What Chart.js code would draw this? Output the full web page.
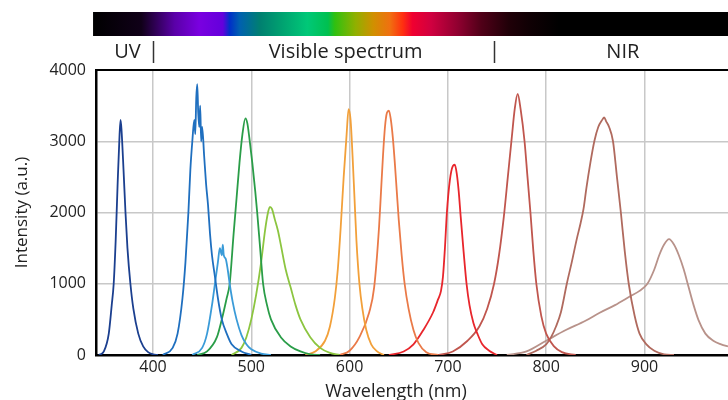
<!DOCTYPE html>
<html>
<head>
<meta charset="utf-8">
<script src="https://cdn.jsdelivr.net/npm/chart.js@4.4.1/dist/chart.umd.min.js"></script>
<style>
  html, body { margin: 0; padding: 0; background: #fff; overflow: hidden; }
  #wrap { width: 728px; height: 400px; }
</style>
</head>
<body>
<div id="wrap"><canvas id="myChart-spectra" width="728" height="400"></canvas></div>
<script>
// emission spectra: [wavelength nm, intensity a.u.]
const led365 = [[345,0],[350,50],[355,300],[358,700],[360,1000],[362,1600],[364,2400],[366,3100],[367,3300],[368,3150],[370,2600],[372,2000],[374,1500],[377,1000],[380,650],[385,300],[390,120],[395,40],[400,10],[405,0]];
const led445 = [[410,0],[420,100],[425,300],[430,800],[433,1300],[436,2000],[438,2600],[440,3000],[442,3300],[443,3100],[444,3600],[445,3800],[446,3400],[447,3200],[448,3500],[449,3000],[450,3200],[452,2800],[454,2400],[456,2100],[458,1700],[460,1400],[463,1100],[466,800],[470,500],[475,300],[480,150],[490,50],[500,0]];
const led470 = [[440,0],[450,100],[455,300],[460,700],[463,1000],[466,1300],[468,1500],[470,1400],[471,1550],[472,1400],[474,1350],[476,1200],[478,1000],[481,750],[485,500],[490,280],[495,150],[500,80],[510,20],[520,0]];
const led495 = [[445,0],[455,50],[465,250],[470,500],[475,800],[478,1000],[482,1700],[485,2200],[488,2700],[491,3100],[494,3320],[496,3250],[498,3050],[501,2700],[504,2300],[506,2000],[509,1500],[512,1000],[516,700],[520,500],[530,250],[540,120],[550,50],[560,10],[570,0]];
const led520 = [[480,0],[490,100],[495,250],[500,500],[505,850],[510,1300],[514,1750],[517,2000],[519,2080],[521,2050],[524,1900],[527,1750],[530,1550],[535,1200],[540,950],[545,700],[550,500],[560,250],[570,100],[580,30],[590,0]];
const led600 = [[555,0],[565,50],[575,200],[580,400],[585,800],[588,1200],[591,1800],[594,2500],[597,3100],[599,3450],[601,3300],[603,2800],[605,2200],[607,1600],[610,1000],[613,650],[617,350],[622,150],[628,50],[635,0]];
const led640 = [[590,0],[600,60],[610,250],[620,600],[625,950],[630,1800],[632,2300],[634,2800],[636,3200],[638,3400],[640,3430],[642,3300],[644,3050],[646,2700],[648,2300],[650,1900],[653,1400],[656,1000],[660,650],[665,350],[670,170],[678,40],[690,0]];
const led707 = [[640,0],[655,50],[665,150],[675,350],[685,600],[690,780],[693,900],[695,1100],[697,1500],[699,2000],[702,2450],[705,2650],[707,2670],[709,2550],[711,2300],[713,1950],[716,1450],[719,1000],[722,700],[726,450],[730,300],[735,150],[742,60],[750,0]];
const led771 = [[690,0],[705,50],[720,200],[732,400],[740,650],[747,1000],[752,1400],[757,1950],[761,2500],[765,3050],[768,3450],[771,3665],[774,3450],[778,3000],[781,2500],[784,2000],[787,1450],[790,1000],[795,550],[800,300],[808,120],[816,40],[830,0]];
const led858 = [[780,0],[790,60],[800,150],[805,250],[810,400],[815,600],[821,1000],[826,1300],[831,1620],[835,1850],[838,2050],[841,2350],[845,2700],[849,3000],[853,3200],[857,3300],[859,3335],[861,3280],[864,3200],[868,3000],[872,2500],[876,2000],[880,1450],[884,1000],[890,550],[895,300],[902,150],[910,60],[920,10],[930,0]];
const led925 = [[760,0],[780,50],[800,200],[820,350],[840,480],[854,590],[870,700],[885,820],[895,900],[903,1000],[910,1200],[915,1400],[920,1550],[925,1625],[930,1550],[935,1400],[940,1200],[944,1000],[950,700],[955,490],[962,300],[970,200],[978,150],[985,120],[990,100]];

const xTicks = [400, 500, 600, 700, 800, 900];
const yTicks = [0, 1000, 2000, 3000, 4000];
const bandNames = ['UV', 'Visible spectrum', 'NIR'];
const bandCenters = [374, 596, 878];   // nm, where the band label sits
const bandEdges = [400, 747];          // nm, separator ticks

const series = [
  [led365, '#1b3f8f'], [led445, '#1f6fbf'], [led470, '#3a9bd8'], [led495, '#2a9d48'],
  [led520, '#8cc540'], [led600, '#f2a03a'], [led640, '#ea7a48'], [led707, '#e8262c'],
  [led771, '#c0564e'], [led858, '#b06a5e'], [led925, '#b8928a']
];

// rainbow strip colours by wavelength
const stripStops = [[339,'#000000'],[388,'#100018'],[422,'#5a00a8'],[447,'#7a00e0'],[471,'#6400dc'],[478,'#0030c8'],[488,'#0060b0'],[509,'#008070'],[530,'#00a070'],[557,'#00c878'],[578,'#00c050'],[585,'#30c010'],[606,'#90b000'],[624,'#d09000'],[641,'#f07010'],[654,'#ff3010'],[664,'#f00030'],[683,'#d00040'],[710,'#900030'],[734,'#500018'],[762,'#200008'],[782,'#100004'],[813,'#000000']];

const FONT = '"Open Sans", "Liberation Sans", sans-serif';

const spectrumDecor = {
  id: 'spectrumDecor',
  afterDraw(chart) {
    const { ctx, chartArea } = chart;
    const xs = chart.scales.x;
    ctx.save();
    // top frame line
    ctx.strokeStyle = '#000';
    ctx.lineWidth = 2;
    ctx.beginPath();
    ctx.moveTo(chartArea.left - 1, chartArea.top);
    ctx.lineTo(chartArea.right, chartArea.top);
    ctx.stroke();

    // spectrum strip
    const x0 = xs.getPixelForValue(stripStops[0][0]);
    const x1 = chartArea.right;
    const grad = ctx.createLinearGradient(x0, 0, x1, 0);
    stripStops.forEach(([nm, c]) => {
      const t = (xs.getPixelForValue(nm) - x0) / (x1 - x0);
      grad.addColorStop(Math.min(1, Math.max(0, t)), c);
    });
    ctx.fillStyle = grad;
    ctx.fillRect(x0, 12, x1 - x0, 24);

    // band labels + separators
    ctx.fillStyle = '#222';
    ctx.font = '20px ' + FONT;
    ctx.textAlign = 'center';
    ctx.textBaseline = 'alphabetic';
    bandNames.forEach((name, i) => {
      ctx.fillText(name, xs.getPixelForValue(bandCenters[i]), 58);
    });
    ctx.strokeStyle = '#333';
    ctx.lineWidth = 1.5;
    bandEdges.forEach(nm => {
      const px = Math.round(xs.getPixelForValue(nm)) + 0.5;
      ctx.beginPath();
      ctx.moveTo(px, 41);
      ctx.lineTo(px, 63);
      ctx.stroke();
    });

    // x axis title
    ctx.font = '18px ' + FONT;
    ctx.fillStyle = '#222';
    ctx.fillText('Wavelength (nm)', 396, 397);
    ctx.restore();
  }
};

const ctx = document.getElementById('myChart-spectra');
new Chart(ctx, {
  type: 'line',
  data: {
    datasets: series.map(([pts, col]) => ({
      data: pts.map(p => ({ x: p[0], y: p[1] })),
      borderColor: col,
      borderWidth: 1.8,
      pointRadius: 0,
      cubicInterpolationMode: 'monotone',
      fill: false
    }))
  },
  options: {
    responsive: false,
    animation: false,
    layout: { padding: { top: 70, right: 0, left: 0, bottom: 0 } },
    plugins: {
      legend: { display: false },
      tooltip: { enabled: false }
    },
    scales: {
      x: {
        type: 'linear',
        min: 342,
        max: 985,
        afterFit: s => { s.height = 45; },
        afterBuildTicks: s => { s.ticks = xTicks.map(v => ({ value: v })); },
        grid: { color: '#c8c8c8', lineWidth: 1.5, drawTicks: false },
        border: { color: '#000', width: 2.5 },
        ticks: { padding: 3, color: '#222', font: { family: FONT, size: 16 }, callback: v => String(v) }
      },
      y: {
        min: 0,
        max: 4000,
        afterFit: s => { s.width = 96; },
        afterBuildTicks: s => { s.ticks = yTicks.map(v => ({ value: v })); },
        grid: { color: '#c8c8c8', lineWidth: 1.5, drawTicks: false },
        border: { color: '#000', width: 2.5 },
        ticks: { padding: 10, color: '#222', font: { family: FONT, size: 16 }, callback: v => String(v) },
        title: {
          display: true,
          text: 'Intensity (a.u.)',
          color: '#222',
          font: { family: FONT, size: 17 },
          padding: { top: 12, bottom: 0 }
        }
      }
    }
  },
  plugins: [spectrumDecor]
});
</script>
</body>
</html>
